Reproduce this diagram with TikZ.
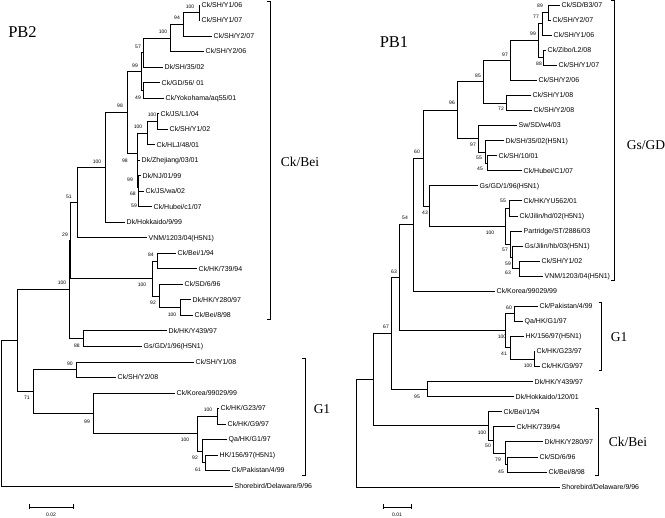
\documentclass[tikz,border=0pt]{standalone}
\usepackage{fontspec}
\setmainfont{Liberation Serif}
\newfontfamily\arialf{Liberation Sans}
\usetikzlibrary{calc}
\tikzset{
 br/.style={line width=0.7pt, line join=miter},
 lf/.style={anchor=west, inner xsep=1.5pt, inner ysep=0pt, font=\arialf\fontsize{7}{8}\selectfont, text height=5pt, text depth=0pt},
 bs/.style={inner sep=0pt, font=\arialf\fontsize{5}{6}\selectfont},
 cl/.style={inner sep=0pt, font=\fontsize{13.5}{15}\selectfont},
 ttl/.style={inner sep=0pt, font=\fontsize{16.5}{18}\selectfont},
}
\newcommand\leaf[4]{\coordinate (#1) at (#2,#3); \node[lf] (#1t) at (#1) {#4};}
\newcommand\kids[3]{\draw[br] (#2) -- (#2 -| #1) -- (#3 -| #1) -- (#3);}
\newcommand\bsv[4]{\node[bs] (#1) at (#2,#3) {#4};}
\newcommand\brk[4]{\coordinate (#1t) at ({#2-3},#3); \coordinate (#1b) at ({#2-3},#4); \draw[br] (#1t) -- ++(3,0) |- (#1b);}
\begin{document}
\begin{tikzpicture}[x=1pt,y=-1pt]
\path[fill=white,use as bounding box] (0,0) rectangle (665,518);
% ---------------- PB2 ----------------
\node[ttl] (t2) at (22.5,32) {PB2};
\leaf{a1}{200}{5.0}{Ck/SH/Y1/06}
\leaf{a2}{200}{20.5}{Ck/SH/Y1/07}
\leaf{a3}{212}{36.0}{Ck/SH/Y2/07}
\leaf{a4}{204}{51.5}{Ck/SH/Y2/06}
\leaf{a5}{163}{67.1}{Dk/SH/35/02}
\leaf{a6}{160}{82.6}{Ck/GD/56/ 01}
\leaf{a7}{164}{98.1}{Ck/Yokohama/aq55/01}
\leaf{a8}{159}{113.6}{Ck/JS/L1/04}
\leaf{a9}{168}{129.1}{Ck/SH/Y1/02}
\leaf{a10}{155}{144.6}{Ck/HLJ/48/01}
\leaf{a11}{140}{160.2}{Dk/Zhejiang/03/01}
\leaf{a12}{141}{175.7}{Dk/NJ/01/99}
\leaf{a13}{144}{191.2}{Ck/JS/wa/02}
\leaf{a14}{152}{206.7}{Ck/Hubei/c1/07}
\leaf{a15}{125}{222.2}{Dk/Hokkaido/9/99}
\leaf{a16}{147}{237.7}{VNM/1203/04(H5N1)}
\leaf{a17}{176}{253.3}{Ck/Bei/1/94}
\leaf{a18}{197}{268.8}{Ck/HK/739/94}
\leaf{a19}{183}{284.3}{Ck/SD/6/96}
\leaf{a20}{191}{299.8}{Dk/HK/Y280/97}
\leaf{a21}{193}{315.3}{Ck/Bei/8/98}
\leaf{a22}{167}{330.8}{Dk/HK/Y439/97}
\leaf{a23}{142}{346.4}{Gs/GD/1/96(H5N1)}
\leaf{a24}{194}{361.9}{Ck/SH/Y1/08}
\leaf{a25}{116}{377.4}{Ck/SH/Y2/08}
\leaf{a26}{175}{392.9}{Ck/Korea/99029/99}
\leaf{a27}{219}{408.4}{Ck/HK/G23/97}
\leaf{a28}{226}{423.9}{Ck/HK/G9/97}
\leaf{a29}{227}{439.5}{Qa/HK/G1/97}
\leaf{a30}{218}{455.0}{HK/156/97(H5N1)}
\leaf{a31}{230}{470.5}{Ck/Pakistan/4/99}
\leaf{a32}{233}{486.0}{Shorebird/Delaware/9/96}
\coordinate (bZ1) at (199,12.75);
\coordinate (bZ) at (183,24.4);
\coordinate (bY) at (170,37.9);
\coordinate (bW) at (143.5,52.5);
\coordinate (bX) at (143,90.35);
\coordinate (bN) at (141.5,71.4);
\coordinate (bQ) at (157,121.35);
\coordinate (bP) at (147,133.0);
\coordinate (bV) at (138.5,198.95);
\coordinate (bU) at (138,187.3);
\coordinate (bS) at (137.5,173.75);
\coordinate (bO) at (137,153.4);
\coordinate (bI) at (127,112.4);
\coordinate (bF) at (105,167.3);
\coordinate (bE) at (77,202.5);
\coordinate (bK) at (157,261.05);
\coordinate (bM) at (180,307.55);
\coordinate (bL) at (159.5,295.9);
\coordinate (bJ) at (152,278.5);
\coordinate (bH) at (70,240.5);
\coordinate (bD) at (83,338.6);
\coordinate (bG) at (69,289.55);
\coordinate (bAA) at (76,369.65);
\coordinate (bAD) at (217,416.15);
\coordinate (bAF) at (205,462.75);
\coordinate (bAE) at (202,451.1);
\coordinate (bAC) at (197,433.6);
\coordinate (bAB) at (93,413.25);
\coordinate (bGa) at (33,391.45);
\coordinate (bA) at (17,340.5);
\coordinate (bR) at (1,413.25);
\kids{bZ1}{a1}{a2}
\kids{bZ}{bZ1}{a3}
\kids{bY}{bZ}{a4}
\kids{bW}{bY}{a5}
\kids{bX}{a6}{a7}
\kids{bN}{bW}{bX}
\kids{bQ}{a8}{a9}
\kids{bP}{bQ}{a10}
\kids{bV}{a13}{a14}
\kids{bU}{a12}{bV}
\kids{bS}{a11}{bU}
\kids{bO}{bP}{bS}
\kids{bI}{bN}{bO}
\kids{bF}{bI}{a15}
\kids{bE}{bF}{a16}
\kids{bK}{a17}{a18}
\kids{bM}{a20}{a21}
\kids{bL}{a19}{bM}
\kids{bJ}{bK}{bL}
\kids{bH}{bE}{bJ}
\kids{bD}{a22}{a23}
\kids{bG}{bH}{bD}
\kids{bAA}{a24}{a25}
\kids{bAD}{a27}{a28}
\kids{bAF}{a30}{a31}
\kids{bAE}{a29}{bAF}
\kids{bAC}{bAD}{bAE}
\kids{bAB}{a26}{bAC}
\kids{bGa}{bAA}{bAB}
\kids{bA}{bG}{bGa}
\kids{bR}{bA}{a32}
\bsv{p1}{190}{7}{100}
\bsv{p2}{177}{18}{94}
\bsv{p3}{163}{32}{100}
\bsv{p4}{138}{47}{57}
\bsv{p5}{135}{66}{99}
\bsv{p6}{138}{98}{49}
\bsv{p7}{120}{106}{98}
\bsv{p8}{152}{115}{100}
\bsv{p9}{138}{127}{100}
\bsv{p10}{125}{161}{98}
\bsv{p11}{130}{180}{99}
\bsv{p12}{133}{194}{68}
\bsv{p13}{134}{206}{59}
\bsv{p14}{97}{162}{100}
\bsv{p15}{69}{197}{51}
\bsv{p16}{65}{235}{29}
\bsv{p17}{151}{255}{84}
\bsv{p18}{142}{285}{100}
\bsv{p19}{153}{303}{92}
\bsv{p20}{172}{315}{100}
\bsv{p21}{62}{283}{100}
\bsv{p22}{77}{346}{88}
\bsv{p23}{70}{364}{90}
\bsv{p24}{27}{398}{71}
\bsv{p25}{87}{422}{99}
\bsv{p26}{208}{410}{100}
\bsv{p27}{185}{440}{100}
\bsv{p28}{195}{458}{92}
\bsv{p29}{198}{470}{61}
\brk{k1}{270}{1.5}{319}
\brk{k2}{305}{358}{475}
\node[cl] (lab1) at (300,162) {Ck/Bei};
\node[cl] (lab2) at (322,409) {G1};
\coordinate (s2a) at (29,507); \coordinate (s2b) at (73,507);
\draw[br] (s2a) -- (s2b);
\draw[br] ($(s2a)+(0,-2.5)$) -- ($(s2a)+(0,2.5)$);
\draw[br] ($(s2b)+(0,-2.5)$) -- ($(s2b)+(0,2.5)$);
\node[bs] (s2l) at (51,515) {0.02};
% ---------------- PB1 ----------------
\node[ttl] (t1) at (394,42.5) {PB1};
\leaf{c1}{560}{5.0}{Ck/SD/B3/07}
\leaf{c2}{551}{20.1}{Ck/SH/Y2/07}
\leaf{c3}{552}{35.1}{Ck/SH/Y1/06}
\leaf{c4}{546}{50.2}{Ck/Zibo/L2/08}
\leaf{c5}{557}{65.3}{Ck/SH/Y1/07}
\leaf{c6}{537}{80.3}{Ck/SH/Y2/06}
\leaf{c7}{531}{95.4}{Ck/SH/Y1/08}
\leaf{c8}{532}{110.4}{Ck/SH/Y2/08}
\leaf{c9}{517}{125.5}{Sw/SD/w4/03}
\leaf{c10}{504}{140.6}{Dk/SH/35/02(H5N1)}
\leaf{c11}{497}{155.6}{Ck/SH/10/01}
\leaf{c12}{522}{170.7}{Ck/Hubei/C1/07}
\leaf{c13}{478}{185.8}{Gs/GD/1/96(H5N1)}
\leaf{c14}{522}{200.8}{Ck/HK/YU562/01}
\leaf{c15}{518}{215.9}{Ck/Jilin/hd/02(H5N1)}
\leaf{c16}{522}{230.9}{Partridge/ST/2886/03}
\leaf{c17}{523}{246.0}{Gs/Jilin/hb/03(H5N1)}
\leaf{c18}{540}{261.1}{Ck/SH/Y1/02}
\leaf{c19}{543}{276.1}{VNM/1203/04(H5N1)}
\leaf{c20}{495}{291.2}{Ck/Korea/99029/99}
\leaf{c21}{538}{306.3}{Ck/Pakistan/4/99}
\leaf{c22}{523}{321.3}{Qa/HK/G1/97}
\leaf{c23}{524}{336.4}{HK/156/97(H5N1)}
\leaf{c24}{535}{351.4}{Ck/HK/G23/97}
\leaf{c25}{540}{366.5}{Ck/HK/G9/97}
\leaf{c26}{533}{381.6}{Dk/HK/Y439/97}
\leaf{c27}{514}{396.6}{Dk/Hokkaido/120/01}
\leaf{c28}{502}{411.7}{Ck/Bei/1/94}
\leaf{c29}{515}{426.8}{Ck/HK/739/94}
\leaf{c30}{543}{441.8}{Dk/HK/Y280/97}
\leaf{c31}{538}{456.9}{Ck/SD/6/96}
\leaf{c32}{547}{471.9}{Ck/Bei/8/98}
\leaf{c33}{560}{487.0}{Shorebird/Delaware/9/96}
\coordinate (dRQ) at (548,12.55);
\coordinate (dRO) at (542,23.8);
\coordinate (dRP) at (543,57.75);
\coordinate (dRN) at (538,40.8);
\coordinate (dRL) at (510,60.55);
\coordinate (dRM) at (506,102.9);
\coordinate (dRJ) at (483,81.7);
\coordinate (dRS) at (487,163.15);
\coordinate (dRR) at (485,151.9);
\coordinate (dRK) at (478,138.7);
\coordinate (dRG) at (457,110.2);
\coordinate (dRT) at (509,208.35);
\coordinate (dRW) at (519,268.6);
\coordinate (dRV) at (512,257.3);
\coordinate (dRU) at (510,244.1);
\coordinate (dRI) at (505,226.2);
\coordinate (dRH) at (429,206.0);
\coordinate (dRE) at (423,158.1);
\coordinate (dRF) at (413,224.65);
\coordinate (dX2) at (514,313.8);
\coordinate (dX4) at (534,358.95);
\coordinate (dX3) at (510,347.7);
\coordinate (dX1) at (505,330.75);
\coordinate (dRC) at (399,277.7);
\coordinate (dRD) at (427,389.1);
\coordinate (dRB) at (391,333.4);
\coordinate (dCB4) at (507,464.4);
\coordinate (dCB3) at (505,453.1);
\coordinate (dCB2) at (493,439.95);
\coordinate (dCB1) at (488,425.8);
\coordinate (dRA) at (373,379.6);
\coordinate (dR) at (356,433.3);
\kids{dRQ}{c1}{c2}
\kids{dRO}{dRQ}{c3}
\kids{dRP}{c4}{c5}
\kids{dRN}{dRO}{dRP}
\kids{dRL}{dRN}{c6}
\kids{dRM}{c7}{c8}
\kids{dRJ}{dRL}{dRM}
\kids{dRS}{c11}{c12}
\kids{dRR}{c10}{dRS}
\kids{dRK}{c9}{dRR}
\kids{dRG}{dRJ}{dRK}
\kids{dRT}{c14}{c15}
\kids{dRW}{c18}{c19}
\kids{dRV}{c17}{dRW}
\kids{dRU}{c16}{dRV}
\kids{dRI}{dRT}{dRU}
\kids{dRH}{c13}{dRI}
\kids{dRE}{dRG}{dRH}
\kids{dRF}{dRE}{c20}
\kids{dX2}{c21}{c22}
\kids{dX4}{c24}{c25}
\kids{dX3}{c23}{dX4}
\kids{dX1}{dX2}{dX3}
\kids{dRC}{dRF}{dX1}
\kids{dRD}{c26}{c27}
\kids{dRB}{dRC}{dRD}
\kids{dCB4}{c31}{c32}
\kids{dCB3}{c30}{dCB4}
\kids{dCB2}{c29}{dCB3}
\kids{dCB1}{c28}{dCB2}
\kids{dRA}{dRB}{dCB1}
\kids{dR}{dRA}{c33}
\bsv{q1}{540}{6}{89}
\bsv{q2}{536}{17}{77}
\bsv{q3}{533}{34}{99}
\bsv{q4}{539}{64}{88}
\bsv{q5}{505}{55}{97}
\bsv{q6}{478}{76}{85}
\bsv{q7}{501}{109}{72}
\bsv{q8}{452}{103}{96}
\bsv{q9}{473}{145}{97}
\bsv{q10}{479}{158}{55}
\bsv{q11}{480}{169}{45}
\bsv{q12}{417}{152}{60}
\bsv{q13}{425}{213}{43}
\bsv{q14}{503}{201}{55}
\bsv{q15}{490}{233}{100}
\bsv{q16}{505}{250}{57}
\bsv{q17}{508}{264}{59}
\bsv{q18}{508}{273}{63}
\bsv{q19}{405}{218}{54}
\bsv{q20}{394}{272}{63}
\bsv{q21}{386}{327}{67}
\bsv{q22}{509}{308}{60}
\bsv{q23}{502}{337}{100}
\bsv{q24}{504}{354}{41}
\bsv{q25}{528}{366}{100}
\bsv{q26}{417}{397}{95}
\bsv{q27}{482}{433}{100}
\bsv{q28}{488}{446}{50}
\bsv{q29}{498}{460}{79}
\bsv{q30}{501}{472}{45}
\brk{k3}{614}{0.8}{280}
\brk{k4}{601.5}{302}{370}
\brk{k5}{598}{408}{475}
\node[cl] (lab3) at (646,145) {Gs/GD};
\node[cl] (lab4) at (619,337) {G1};
\node[cl] (lab5) at (628,442) {Ck/Bei};
\coordinate (s1a) at (383,507); \coordinate (s1b) at (411,507);
\draw[br] (s1a) -- (s1b);
\draw[br] ($(s1a)+(0,-2.5)$) -- ($(s1a)+(0,2.5)$);
\draw[br] ($(s1b)+(0,-2.5)$) -- ($(s1b)+(0,2.5)$);
\node[bs] (s1l) at (397,515) {0.01};
\end{tikzpicture}
\end{document}
